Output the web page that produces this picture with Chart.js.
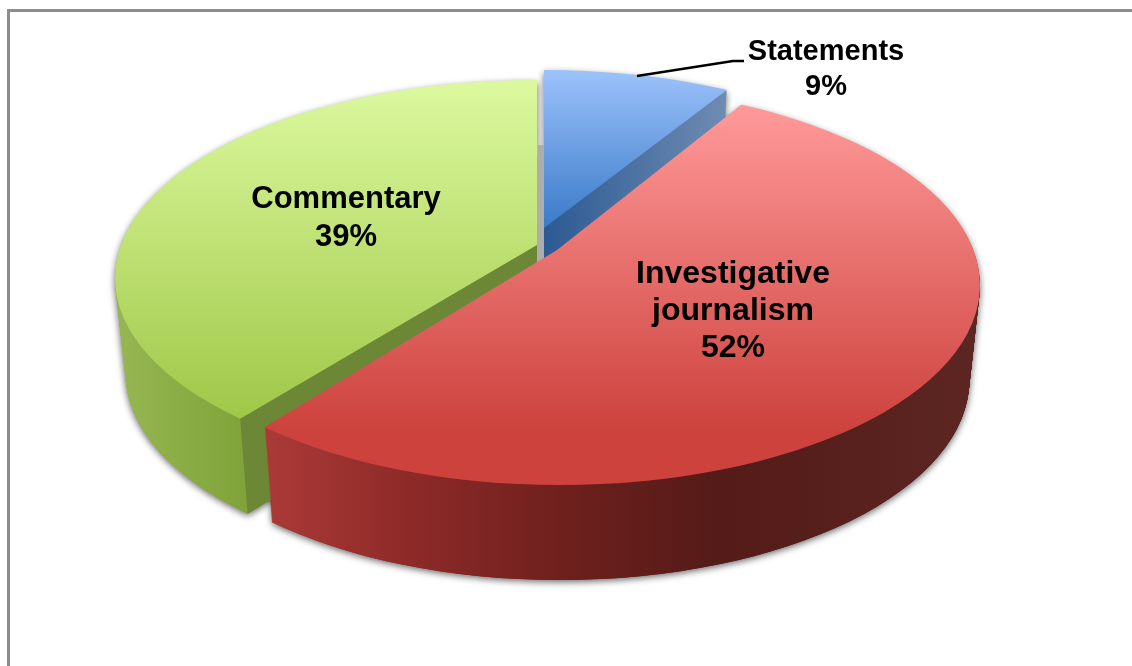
<!DOCTYPE html>
<html>
<head>
<meta charset="UTF-8">
<title>Content types</title>
<script src="https://cdn.jsdelivr.net/npm/chart.js"></script>
<style>
    html, body { margin: 0; padding: 0; background: #fff; overflow: hidden; }
    #frame { position: absolute; left: 7px; top: 9px; width: 1200px; height: 800px; border: 3px solid #8c8c8c; }
    #pie { position: absolute; left: 0; top: 0; }
</style>
</head>
<body>
<div id="frame"></div>
<canvas id="pie" width="1132" height="666"></canvas>
<script>
const categories = ['Statements', 'Investigative journalism', 'Commentary'];
const shares = [9, 52, 39];

// how each slice sits on the page: tip of the wedge, the rim ellipse,
// and how far perspective pushes each cut edge away from its true angle
const RADIUS = 400;
const DEPTH = 95;
const TAPER = 0.025;
const deg = Math.PI / 180;
const sliceViews = [
    { ax: 544, ay: 228, cx: 544, cy: 263, rx: 413, ry: 193, nudgeStart: 0, nudgeEnd: -6.1 * deg },
    { ax: 557, ay: 250, cx: 560, cy: 285, rx: 420, ry: 200, nudgeStart: -6.8 * deg, nudgeEnd: 5.1 * deg },
    { ax: 537, ay: 245, cx: 537, cy: 278, rx: 422, ry: 198, nudgeStart: 5.1 * deg, nudgeEnd: 0 }
];
const drawOrder = [0, 2, 1];

const topColors = [
    { y0: 70, y1: 228, from: '#9cc2fb', to: '#3a7ac8' },
    { y0: 105, y1: 430, from: '#ff9a9a', to: '#cd423d' },
    { y0: 80, y1: 417, from: '#dcf99f', to: '#a0c848' }
];
const sideColors = [
    [[544, '#2c5a93'], [727, '#6f8cb2']],
    [[265, '#ab3a37'], [400, '#8f2b29'], [560, '#6f201d'], [720, '#541b18'], [978, '#5c2623']],
    [[115, '#96b752'], [250, '#7fa238']]
];
const greenWall = '#6c8736';

const labelSpots = [
    { x: 826, y: 60, size: 29, line: 35 },
    { x: 733, y: 283, size: 32, line: 37 },
    { x: 346, y: 208, size: 31, line: 38 }
];

function newLayer(chart, base) {
    const c = document.createElement('canvas');
    c.width = chart.canvas.width;
    c.height = chart.canvas.height;
    const g = c.getContext('2d');
    g.setTransform(base);
    return { c, g };
}

function rimPoint(view, angle, grow) {
    return {
        x: view.cx + Math.cos(angle) * view.rx * grow,
        y: view.cy + Math.sin(angle) * view.ry * grow
    };
}

// the library's arc gives the angles and paints the disc, the wedge clip keeps the slice
function stamp(g, arc, view, d) {
    const ghost = Object.create(arc);
    ghost.options = Object.assign({}, arc.options, { backgroundColor: '#000', borderWidth: 0 });
    ghost.startAngle = -Math.PI / 2;
    ghost.endAngle = Math.PI * 1.5;
    ghost.circumference = Math.PI * 2;

    const a0 = arc.startAngle + view.nudgeStart;
    const a1 = arc.endAngle + view.nudgeEnd;
    const shrink = 1 - TAPER * d / DEPTH;

    g.save();
    g.translate(view.ax, d);
    g.scale(shrink, 1);
    g.translate(-view.ax, 0);

    g.beginPath();
    g.moveTo(view.ax, view.ay);
    const p0 = rimPoint(view, a0, 1);
    g.lineTo(view.ax + (p0.x - view.ax) * 1.4, view.ay + (p0.y - view.ay) * 1.4);
    for (let n = 1; n < 40; n++) {
        const p = rimPoint(view, a0 + (a1 - a0) * n / 40, 1.4);
        g.lineTo(p.x, p.y);
    }
    const p1 = rimPoint(view, a1, 1);
    g.lineTo(view.ax + (p1.x - view.ax) * 1.4, view.ay + (p1.y - view.ay) * 1.4);
    g.closePath();
    g.clip();

    g.translate(view.cx, view.cy);
    g.scale(view.rx / RADIUS, view.ry / RADIUS);
    g.translate(-arc.x, -arc.y);
    ghost.draw(g);
    g.restore();
}

const tiltedPie = {
    id: 'tiltedPie',
    beforeDatasetDraw(chart) {
        const ctx = chart.ctx;
        const base = ctx.getTransform();
        const arcs = chart.getDatasetMeta(0).data;
        const sides = [], tops = [];

        arcs.forEach((arc, i) => {
            const view = sliceViews[i];
            const side = newLayer(chart, base);
            for (let d = DEPTH; d >= 1; d--) stamp(side.g, arc, view, d);
            side.g.globalCompositeOperation = 'source-atop';
            const stops = sideColors[i];
            const x0 = stops[0][0], x1 = stops[stops.length - 1][0];
            const grad = side.g.createLinearGradient(x0, 0, x1, 0);
            stops.forEach(s => grad.addColorStop((s[0] - x0) / (x1 - x0), s[1]));
            if (i === 2) {
                // green shows its cut wall to the right of the rim corner
                const c = rimPoint(view, arc.startAngle + view.nudgeStart, 1);
                const bx = view.ax + (c.x - view.ax) * (1 - TAPER);
                side.g.fillStyle = greenWall;
                side.g.fillRect(0, 0, 1132, 666);
                side.g.beginPath();
                side.g.moveTo(0, 0);
                side.g.lineTo(c.x, 0);
                side.g.lineTo(c.x, c.y);
                side.g.lineTo(bx, c.y + DEPTH);
                side.g.lineTo(bx, 666);
                side.g.lineTo(0, 666);
                side.g.closePath();
                side.g.fillStyle = grad;
                side.g.fill();
            } else {
                side.g.fillStyle = grad;
                side.g.fillRect(0, 0, 1132, 666);
            }
            sides.push(side.c);

            const top = newLayer(chart, base);
            stamp(top.g, arc, view, 0);
            top.g.globalCompositeOperation = 'source-atop';
            const tc = topColors[i];
            const tg = top.g.createLinearGradient(0, tc.y0, 0, tc.y1);
            tg.addColorStop(0, tc.from);
            tg.addColorStop(1, tc.to);
            top.g.fillStyle = tg;
            top.g.fillRect(0, 0, 1132, 666);
            tops.push(top.c);
        });

        ctx.save();
        ctx.setTransform(1, 0, 0, 1, 0, 0);
        // soft shadow first so no slice gets it on top
        ctx.shadowColor = 'rgba(0,0,0,0.6)';
        ctx.shadowBlur = 7;
        ctx.shadowOffsetY = 2;
        sides.forEach(c => ctx.drawImage(c, 0, 0));
        ctx.shadowColor = 'transparent';
        ctx.shadowBlur = 0;
        ctx.shadowOffsetY = 0;
        ctx.setTransform(base);

        // grey sliver of the back wall between green and blue
        const g = sliceViews[2], b = sliceViews[0];
        ctx.fillStyle = '#adadad';
        ctx.beginPath();
        ctx.moveTo(g.ax, b.ay - 71);
        ctx.lineTo(g.ax + 1, b.ay - 71);
        ctx.lineTo(g.ax + 1, b.ay - 83);
        ctx.lineTo(b.ax, b.ay - 83);
        ctx.lineTo(b.ax, b.ay + 34);
        ctx.lineTo(g.ax, b.ay + 34);
        ctx.closePath();
        ctx.fill();

        ctx.setTransform(1, 0, 0, 1, 0, 0);
        drawOrder.forEach(i => {
            ctx.drawImage(sides[i], 0, 0);
            ctx.drawImage(tops[i], 0, 0);
        });
        ctx.restore();
        return false;
    },
    afterDraw(chart) {
        const ctx = chart.ctx;
        ctx.save();
        ctx.strokeStyle = '#000';
        ctx.lineWidth = 2.5;
        ctx.beginPath();
        ctx.moveTo(637, 76);
        ctx.lineTo(733, 61);
        ctx.lineTo(744, 61);
        ctx.stroke();

        ctx.fillStyle = '#000';
        ctx.textAlign = 'center';
        ctx.textBaseline = 'alphabetic';
        chart.data.labels.forEach((name, i) => {
            const spot = labelSpots[i];
            ctx.font = 'bold ' + spot.size + 'px "Liberation Sans", Arial, sans-serif';
            const lines = name.split(' ').concat(shares[i] + '%');
            lines.forEach((t, n) => ctx.fillText(t, spot.x, spot.y + n * spot.line));
        });
        ctx.restore();
    }
};

new Chart(document.getElementById('pie').getContext('2d'), {
    type: 'pie',
    data: {
        labels: categories,
        datasets: [{ data: shares, borderWidth: 0, backgroundColor: ['#6f9fe0', '#e05a58', '#b8dc6a'] }]
    },
    options: {
        responsive: false,
        animation: false,
        radius: RADIUS,
        plugins: { legend: { display: false }, tooltip: { enabled: false } }
    },
    plugins: [tiltedPie]
});
</script>
</body>
</html>
